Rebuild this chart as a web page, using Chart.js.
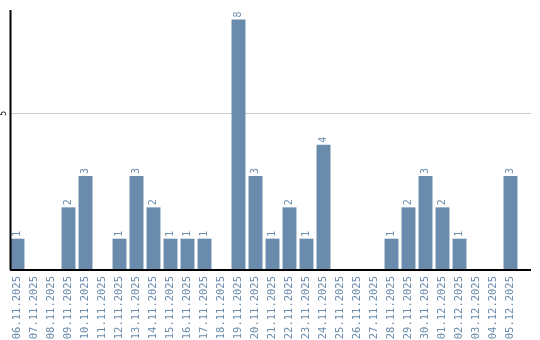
<!DOCTYPE html>
<html><head><meta charset="utf-8">
<script src="https://cdn.jsdelivr.net/npm/chart.js@4"></script>
<style>html,body{margin:0;padding:0;background:#fff}#wrap{width:540px;height:340px}</style>
</head><body><div id="wrap"><canvas id="c" width="540" height="340"></canvas></div>
<script>
const categories = ["06.11.2025","07.11.2025","08.11.2025","09.11.2025","10.11.2025","11.11.2025","12.11.2025","13.11.2025","14.11.2025","15.11.2025","16.11.2025","17.11.2025","18.11.2025","19.11.2025","20.11.2025","21.11.2025","22.11.2025","23.11.2025","24.11.2025","25.11.2025","26.11.2025","27.11.2025","28.11.2025","29.11.2025","30.11.2025","01.12.2025","02.12.2025","03.12.2025","04.12.2025","05.12.2025"];
const counts = [1,0,0,2,3,0,1,3,2,1,1,1,0,8,3,1,2,1,4,0,0,0,1,2,3,2,1,0,0,3];
const yTickLabels = [5];

const BLUE = '#6a8bab';
const FONT = '"DejaVu Sans Mono", monospace';

const gridAndAxes = {
  id: 'gridAndAxes',
  beforeDatasetsDraw(chart) {
    const ctx = chart.ctx;
    const y = chart.scales.y;
    ctx.save();
    ctx.strokeStyle = '#cccccc';
    ctx.lineWidth = 1;
    yTickLabels.forEach(t => {
      const py = Math.round(y.getPixelForValue(t)) + 0.5;
      ctx.beginPath();
      ctx.moveTo(11, py);
      ctx.lineTo(531, py);
      ctx.stroke();
    });
    ctx.restore();
  },
  afterDatasetsDraw(chart) {
    const ctx = chart.ctx;
    const meta = chart.getDatasetMeta(0);
    const area = chart.chartArea;
    ctx.save();
    ctx.strokeStyle = '#000';
    ctx.lineWidth = 2;
    ctx.beginPath();
    ctx.moveTo(10.5, area.top);
    ctx.lineTo(10.5, area.bottom);
    ctx.moveTo(10, area.bottom);
    ctx.lineTo(531, area.bottom);
    ctx.stroke();
    ctx.fillStyle = BLUE;
    ctx.font = '10px ' + FONT;
    ctx.textAlign = 'left';
    ctx.textBaseline = 'middle';
    meta.data.forEach((bar, i) => {
      const v = counts[i];
      if (!v) return;
      ctx.save();
      ctx.translate(bar.x, bar.y - 2);
      ctx.rotate(-Math.PI / 2);
      ctx.fillText(String(v), 0, 0);
      ctx.restore();
    });
    const y = chart.scales.y;
    ctx.fillStyle = '#000';
    ctx.font = '8px ' + FONT;
    ctx.textAlign = 'center';
    yTickLabels.forEach(t => {
      ctx.save();
      ctx.translate(4, y.getPixelForValue(t));
      ctx.rotate(-Math.PI / 2);
      ctx.fillText(String(t), 0, 0);
      ctx.restore();
    });
    ctx.restore();
  }
};

new Chart(document.getElementById('c'), {
  type: 'bar',
  data: { labels: categories, datasets: [{ data: counts, backgroundColor: BLUE, barPercentage: 0.82, categoryPercentage: 1 }] },
  options: {
    responsive: false,
    animation: false,
    layout: { padding: { top: 10, right: 21, left: 0, bottom: 0 } },
    plugins: { legend: { display: false }, tooltip: { enabled: false } },
    scales: {
      x: {
        grid: { display: false, drawTicks: false, tickLength: 0 },
        border: { display: false },
        ticks: { color: BLUE, font: { family: FONT, size: 10.5 }, minRotation: 90, maxRotation: 90, autoSkip: false, padding: 6 },
        afterFit(s) { s.height = 70; }
      },
      y: {
        min: 0, max: 8.3,
        ticks: { display: false, stepSize: 5 },
        grid: { display: false, drawTicks: false },
        border: { display: false },
        afterFit(s) { s.width = 9; }
      }
    }
  },
  plugins: [gridAndAxes]
});
</script></body></html>
